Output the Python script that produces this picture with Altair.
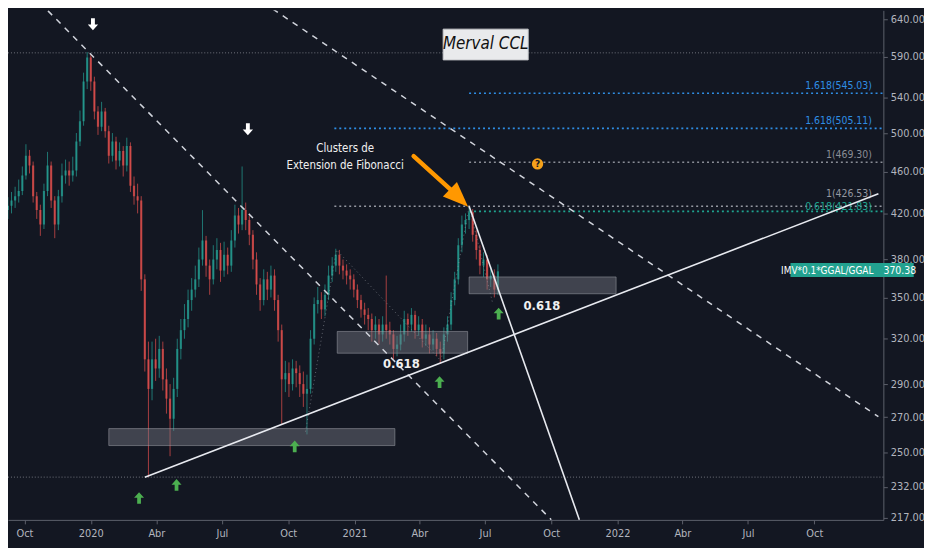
import altair as alt
import pandas as pd

BG = "#131722"
FONT = "'Liberation Sans Narrow', 'DejaVu Sans Condensed', 'Roboto Condensed', sans-serif"

# ---------------- candle data (5-day candles) ----------------
first_date = "2019-09-03"
step = "5D"
first_open = 418
closes = [423, 427, 432, 436, 441, 456, 476, 466, 436, 423,
          410, 441, 466, 432, 410, 436, 456, 461, 456, 461,
          491, 513, 559, 589, 559, 524, 507, 524, 502, 476,
          491, 471, 481, 466, 486, 446, 436, 432, 364, 306,
          287, 306, 300, 313, 293, 281, 269, 287, 313, 326,
          334, 348, 356, 364, 380, 396, 375, 364, 380, 388,
          371, 384, 375, 396, 418, 410, 423, 414, 401, 380,
          360, 348, 364, 356, 367, 348, 326, 293, 297, 290,
          300, 297, 290, 284, 287, 320, 345, 348, 341, 352,
          367, 375, 384, 375, 371, 367, 364, 356, 348, 341,
          337, 334, 326, 330, 323, 330, 326, 323, 313, 316,
          323, 334, 330, 337, 326, 330, 320, 323, 316, 320,
          313, 310, 323, 330, 348, 364, 392, 410, 414, 421,
          401, 388, 375, 380, 364, 367, 356, 370.38]
highs = [430, 435, 440, 445, 452, 465, 488, 482, 470, 440,
         428, 448, 480, 470, 436, 442, 468, 472, 470, 475,
         500, 525, 570, 596, 592, 565, 530, 535, 528, 508,
         500, 496, 490, 486, 495, 490, 455, 448, 436, 368,
         318, 318, 320, 322, 318, 300, 290, 294, 320, 334,
         345, 356, 365, 375, 390, 423, 400, 380, 392, 398,
         394, 395, 390, 405, 428, 425, 465, 430, 418, 405,
         386, 365, 372, 370, 375, 372, 352, 330, 305, 304,
         306, 305, 302, 298, 296, 326, 350, 358, 354, 360,
         375, 382, 389, 388, 380, 376, 372, 368, 360, 352,
         346, 342, 338, 336, 334, 336, 367, 332, 326, 322,
         330, 340, 338, 342, 340, 336, 334, 330, 328, 326,
         324, 318, 328, 336, 354, 370, 398, 418, 420, 426.53,
         424, 405, 392, 386, 384, 374, 372, 376]
lows = [410, 415, 420, 425, 430, 437, 452, 458, 430, 415,
        400, 406, 436, 425, 398, 405, 430, 448, 446, 450,
        455, 486, 508, 550, 548, 515, 498, 502, 495, 468,
        470, 462, 465, 455, 460, 440, 428, 420, 355, 298,
        237, 280, 292, 294, 286, 272, 248, 262, 282, 306,
        320, 328, 340, 350, 358, 375, 366, 352, 360, 372,
        362, 366, 368, 370, 390, 402, 405, 405, 392, 372,
        352, 340, 344, 348, 350, 340, 318, 266, 285, 282,
        286, 288, 282, 276, 260, 284, 316, 338, 334, 336,
        348, 362, 370, 368, 364, 360, 356, 350, 342, 335,
        330, 326, 318, 320, 316, 318, 320, 316, 306, 308,
        312, 318, 322, 325, 320, 322, 314, 315, 310, 312,
        308, 303, 306, 318, 326, 344, 360, 386, 402, 406,
        395, 380, 368, 366, 356, 358, 350, 352]

# ---------------- annotation data ----------------
x_domain = [alt.DateTime(year=2019, month=9, date=15), alt.DateTime(year=2022, month=12, date=29)]
y_domain = [216.0, 652.5]
y_ticks = [217, 232, 250, 270, 290, 320, 350, 380, 420, 460, 500, 540, 590, 640]
x_tick_months = [(2019, 10), (2020, 1), (2020, 4), (2020, 7), (2020, 10), (2021, 1), (2021, 4),
                 (2021, 7), (2021, 10), (2022, 1), (2022, 4), (2022, 7), (2022, 10)]
month_names = ['Ene', 'Feb', 'Mar', 'Abr', 'May', 'Jun', 'Jul', 'Ago', 'Sep', 'Oct', 'Nov', 'Dic']

hlines = [595, 237]

fib_prices = [545.03, 505.11, 469.30, 426.53, 421.83]
fib_labels = ["1.618(545.03)", "1.618(505.11)", "1(469.30)", "1(426.53)", "0.618(421.83)"]
fib_starts = ["2021-06-09", "2020-12-04", "2021-06-09", "2020-12-04", "2021-06-09"]
fib_colors = ["#2f8ee5", "#2f8ee5", "#8a8d96", "#9598a1", "#1fa38f"]
fib_label_dy = [-2, -2, -2, -7, 1]
fib_label_date = "2022-12-20"
fib_end = "2023-02-01"

connector_dates = ["2020-10-25", "2020-12-07", "2021-05-01", "2021-06-09", "2021-07-12"]
connector_prices = [261.6, 388, 305, 426.53, 345]

dashed_d1 = ["2019-10-22", "2020-08-27"]
dashed_p1 = [663.8, 663.8]
dashed_d2 = ["2021-10-01", "2022-12-29"]
dashed_p2 = [216.1, 270.2]

solid_d1 = ["2020-03-16", "2021-06-09"]
solid_p1 = [236.9, 426.53]
solid_d2 = ["2022-12-29", "2021-11-09"]
solid_p2 = [438.3, 216.1]

zone_d1 = ["2020-01-26", "2020-12-08", "2021-06-09"]
zone_d2 = ["2021-02-26", "2021-06-07", "2021-12-30"]
zone_p1 = [263.3, 325.1, 365.9]
zone_p2 = [253.8, 310.1, 352.8]

ratio_dates = ["2021-03-07", "2021-09-18"]
ratio_prices = [302.8, 343.8]
ratio_texts = ["0.618", "0.618"]

note_dates = ["2020-12-19", "2020-12-19"]
note_prices = [482.9, 465.5]
note_texts = ["Clusters de", "Extension de Fibonacci"]

up_arrow_dates = ["2020-03-08", "2020-04-29", "2020-10-10", "2021-04-29", "2021-07-20"]
up_arrow_prices = [226.5, 233.0, 253.3, 291.3, 337.9]
down_arrow_dates = ["2020-01-04", "2020-08-06"]
down_arrow_prices = [633.1, 504.1]

ARROW_PATH = "M0,-1L0.85,-0.05L0.32,-0.05L0.32,1L-0.32,1L-0.32,-0.05L-0.85,-0.05Z"

orange_shaft = {"d1": "2021-03-24", "p1": 475.5, "d2": "2021-05-19", "p2": 439.3}
orange_head = {"d": "2021-05-26", "p": 434.2}

qmark_date, qmark_price = "2021-09-12", 467.6

title_text = "Merval CCL"
title_box = {"d1": "2021-05-04", "d2": "2021-08-30", "p1": 626.4, "p2": 586.0}
title_pos = {"d": "2021-07-02", "p": 606.5}

badge_box = {"d1": "2022-08-29", "d2": "2023-02-16", "p1": 377.1, "p2": 365.9}
badge_name, badge_name_date = "IMV*0.1*GGAL/GGAL", "2022-12-22"
badge_value, badge_value_date = "370.38", "2023-01-05"
last_price = 370.38

# ---------------- build tables ----------------
dates = pd.date_range(first_date, periods=len(closes), freq=step)
opens = [first_open] + closes[:-1]
candles = pd.DataFrame({"date": dates, "open": opens, "high": highs, "low": lows, "close": closes})
up = candles[candles["close"] >= candles["open"]]
down = candles[candles["close"] < candles["open"]]

T = pd.to_datetime

x_ticks = [alt.DateTime(year=y, month=m, date=1) for (y, m) in x_tick_months]
label_expr = ("month(datum.value) == 0 ? timeFormat(datum.value, '%Y') : "
              + str(month_names) + "[month(datum.value)]")

x_main = alt.X("date:T", title=None,
               scale=alt.Scale(domain=x_domain),
               axis=alt.Axis(values=x_ticks, labelExpr=label_expr, title=None, grid=False,
                             labelPadding=4, tickSize=4))
y_main = alt.Y("low:Q", title=None,
               scale=alt.Scale(type="log", domain=y_domain, nice=False, zero=False),
               axis=alt.Axis(orient="right", values=y_ticks, format=".2f", title=None, grid=False,
                             tickSize=4, labelPadding=3))

layers = []

# horizontal long dotted lines
layers.append(alt.Chart(pd.DataFrame({"price": hlines})).mark_rule(
    strokeDash=[1, 2], strokeWidth=1, color="#8a8d96", opacity=0.8).encode(
    y=alt.Y("price:Q", title=None)))

# candles
for df, col in [(up, "#26a69a"), (down, "#ef5350")]:
    layers.append(alt.Chart(df).mark_rule(strokeWidth=1, color=col, opacity=0.68, clip=True).encode(
        x=x_main, y=y_main, y2="high:Q"))
    layers.append(alt.Chart(df).mark_bar(size=2.2, color=col, opacity=0.68, clip=True).encode(
        x=alt.X("date:T", title=None), y=alt.Y("open:Q", title=None), y2="close:Q"))

# support zones
zones = pd.DataFrame({"d1": T(zone_d1), "d2": T(zone_d2), "p1": zone_p1, "p2": zone_p2})
layers.append(alt.Chart(zones).mark_rect(fill="#787b86", fillOpacity=0.45, stroke="#a3a6af",
                                         strokeOpacity=0.5, strokeWidth=1, clip=True).encode(
    x=alt.X("d1:T", title=None), x2="d2:T", y=alt.Y("p1:Q", title=None), y2="p2:Q"))

# fib connector (faint)
conn = pd.DataFrame({"d": T(connector_dates), "p": connector_prices})
layers.append(alt.Chart(conn).mark_line(strokeDash=[1, 3], strokeWidth=1, color="#9598a1",
                                        opacity=0.6, clip=True).encode(
    x=alt.X("d:T", title=None), y=alt.Y("p:Q", title=None)))

# fib levels
for p, lab, st, col, dy in zip(fib_prices, fib_labels, fib_starts, fib_colors, fib_label_dy):
    fdf = pd.DataFrame({"start": T([st]), "end": T([fib_end]), "lab_at": T([fib_label_date]),
                        "price": [p], "label": [lab]})
    layers.append(alt.Chart(fdf).mark_rule(strokeDash=[2, 3], strokeWidth=1.6, color=col, clip=True).encode(
        x=alt.X("start:T", title=None), x2="end:T", y=alt.Y("price:Q", title=None)))
    layers.append(alt.Chart(fdf).mark_text(align="right", baseline="bottom", dy=dy, fontSize=10.5,
                                           font=FONT, color=col, clip=True).encode(
        x=alt.X("lab_at:T", title=None), y=alt.Y("price:Q", title=None), text="label:N"))

# trend lines
dash_df = pd.DataFrame({"d1": T(dashed_d1), "p1": dashed_p1, "d2": T(dashed_d2), "p2": dashed_p2})
layers.append(alt.Chart(dash_df).mark_rule(strokeDash=[6, 6], strokeWidth=1.5, color="#d1d4dc", clip=True).encode(
    x=alt.X("d1:T", title=None), y=alt.Y("p1:Q", title=None), x2="d2:T", y2="p2:Q"))
solid_df = pd.DataFrame({"d1": T(solid_d1), "p1": solid_p1, "d2": T(solid_d2), "p2": solid_p2})
layers.append(alt.Chart(solid_df).mark_rule(strokeWidth=1.6, color="#e8eaf0", clip=True).encode(
    x=alt.X("d1:T", title=None), y=alt.Y("p1:Q", title=None), x2="d2:T", y2="p2:Q"))

# ratio texts
rat = pd.DataFrame({"d": T(ratio_dates), "p": ratio_prices, "t": ratio_texts})
layers.append(alt.Chart(rat).mark_text(fontSize=13, fontWeight="bold", color="#f0f0f0", font=FONT,
                                       baseline="middle", clip=True).encode(
    x=alt.X("d:T", title=None), y=alt.Y("p:Q", title=None), text="t:N"))

# note texts
notes = pd.DataFrame({"d": T(note_dates), "p": note_prices, "t": note_texts})
layers.append(alt.Chart(notes).mark_text(fontSize=11.5, color="#f0f0f0", font=FONT,
                                         baseline="middle", clip=True).encode(
    x=alt.X("d:T", title=None), y=alt.Y("p:Q", title=None), text="t:N"))

# arrows
ua = pd.DataFrame({"d": T(up_arrow_dates), "p": up_arrow_prices})
layers.append(alt.Chart(ua).mark_point(shape=ARROW_PATH, filled=True, size=140, color="#4caf50",
                                       opacity=1, clip=True).encode(
    x=alt.X("d:T", title=None), y=alt.Y("p:Q", title=None)))
da = pd.DataFrame({"d": T(down_arrow_dates), "p": down_arrow_prices})
layers.append(alt.Chart(da).mark_point(shape=ARROW_PATH, angle=180, filled=True, size=150, color="#ffffff",
                                       opacity=1, clip=True).encode(
    x=alt.X("d:T", title=None), y=alt.Y("p:Q", title=None)))

shaft = pd.DataFrame({"d1": T([orange_shaft["d1"]]), "p1": [orange_shaft["p1"]],
                      "d2": T([orange_shaft["d2"]]), "p2": [orange_shaft["p2"]]})
layers.append(alt.Chart(shaft).mark_rule(strokeWidth=4.5, color="#ff9800", strokeCap="round", clip=True).encode(
    x=alt.X("d1:T", title=None), y=alt.Y("p1:Q", title=None), x2="d2:T", y2="p2:Q"))
head = pd.DataFrame({"d": T([orange_head["d"]]), "p": [orange_head["p"]]})
layers.append(alt.Chart(head).mark_point(shape="M0,-1L0.8,1L-0.8,1Z", angle=134, size=650, filled=True,
                                         color="#ff9800", opacity=1, clip=True).encode(
    x=alt.X("d:T", title=None), y=alt.Y("p:Q", title=None)))

qm = pd.DataFrame({"d": T([qmark_date]), "p": [qmark_price], "t": ["?"]})
layers.append(alt.Chart(qm).mark_point(shape="circle", filled=True, size=130, color="#f7a21b", opacity=1).encode(
    x=alt.X("d:T", title=None), y=alt.Y("p:Q", title=None)))
layers.append(alt.Chart(qm).mark_text(fontSize=9, fontWeight="bold", color="#131722", baseline="middle",
                                      font="DejaVu Sans").encode(
    x=alt.X("d:T", title=None), y=alt.Y("p:Q", title=None), text="t:N"))

# title box
tb = pd.DataFrame({"d1": T([title_box["d1"]]), "d2": T([title_box["d2"]]),
                   "p1": [title_box["p1"]], "p2": [title_box["p2"]]})
layers.append(alt.Chart(tb).mark_rect(fill="#e9eaec", stroke="#c8c9cc", strokeWidth=1).encode(
    x=alt.X("d1:T", title=None), x2="d2:T", y=alt.Y("p1:Q", title=None), y2="p2:Q"))
tt = pd.DataFrame({"d": T([title_pos["d"]]), "p": [title_pos["p"]], "t": [title_text]})
layers.append(alt.Chart(tt).mark_text(fontSize=17, fontStyle="italic", color="#111111",
                                      font="'DejaVu Sans Condensed', 'Liberation Sans Narrow', sans-serif",
                                      baseline="middle").encode(
    x=alt.X("d:T", title=None), y=alt.Y("p:Q", title=None), text="t:N"))

# last price badge
bb = pd.DataFrame({"d1": T([badge_box["d1"]]), "d2": T([badge_box["d2"]]),
                   "p1": [badge_box["p1"]], "p2": [badge_box["p2"]]})
layers.append(alt.Chart(bb).mark_rect(fill="#22a18f", clip=False).encode(
    x=alt.X("d1:T", title=None), x2="d2:T", y=alt.Y("p1:Q", title=None), y2="p2:Q"))
bn = pd.DataFrame({"d": T([badge_name_date]), "p": [last_price], "t": [badge_name]})
layers.append(alt.Chart(bn).mark_text(fontSize=10, color="#ffffff", font=FONT, baseline="middle",
                                      align="right", clip=False).encode(
    x=alt.X("d:T", title=None), y=alt.Y("p:Q", title=None), text="t:N"))
bv = pd.DataFrame({"d": T([badge_value_date]), "p": [last_price], "t": [badge_value]})
layers.append(alt.Chart(bv).mark_text(fontSize=10.5, color="#ffffff", font=FONT, baseline="middle",
                                      align="left", clip=False).encode(
    x=alt.X("d:T", title=None), y=alt.Y("p:Q", title=None), text="t:N"))

chart = alt.layer(*layers).properties(
    width=883, height=514,
    autosize=alt.AutoSizeParams(type="none"),
    padding={"left": 0, "top": 0, "right": 41, "bottom": 26},
).configure(background=BG, font=FONT).configure_view(stroke=None).configure_axis(
    labelColor="#b2b5be", labelFontSize=11, labelFont=FONT, tickColor="#5d606b",
    domainColor="#5d606b", grid=False)

chart.save("out.html", embed_options={"renderer": "svg", "actions": False})
